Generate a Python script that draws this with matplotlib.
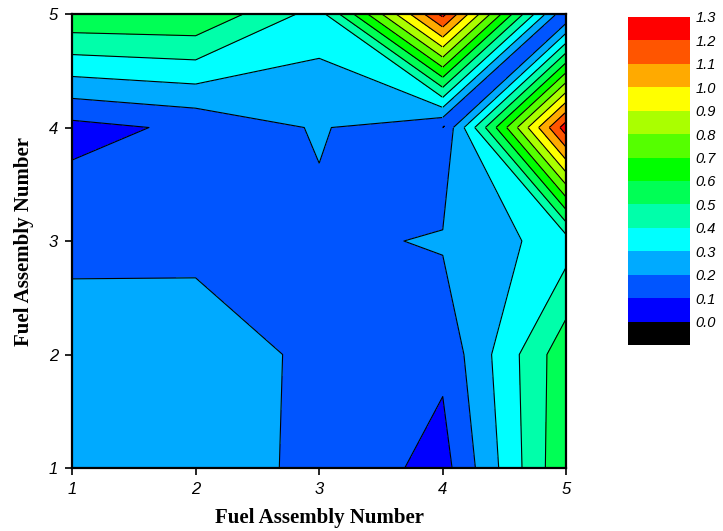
import numpy as np
import matplotlib
matplotlib.use('Agg')
import matplotlib.pyplot as plt
from matplotlib.colors import ListedColormap, BoundaryNorm
from matplotlib.tri import Triangulation

# assembly positions along each axis
xpos = [1, 2, 3, 4, 5]
ypos = [1, 2, 3, 4, 5]

# values for each row of assemblies (y = 1 ... 5), left to right in x
row_y1 = [0.250, 0.221, 0.190, 0.060, 0.590]
row_y2 = [0.236, 0.250, 0.179, 0.1235, 0.570]
row_y3 = [0.182, 0.176, 0.176, 0.211, 0.350]
row_y4 = [0.067, 0.120, 0.211, 0.0999, 1.260]
row_y5 = [0.585, 0.590, 0.357, 1.230, 0.108]

levels = [0.0, 0.1, 0.2, 0.3, 0.4, 0.5, 0.6, 0.7, 0.8, 0.9, 1.0, 1.1, 1.2, 1.3]
level_labels = ['0.0', '0.1', '0.2', '0.3', '0.4', '0.5', '0.6', '0.7',
                '0.8', '0.9', '1.0', '1.1', '1.2', '1.3']
band_colors = ['#0000FF', '#0055FF', '#00AAFF', '#00FFFF', '#00FFAA', '#00FF55',
               '#00FF00', '#55FF00', '#AAFF00', '#FFFF00', '#FFAA00', '#FF5500',
               '#FF0000']

X, Y = np.meshgrid(xpos, ypos)
Z = np.array([row_y1, row_y2, row_y3, row_y4, row_y5])

cmap = ListedColormap(band_colors)
cmap.set_under('black')
norm = BoundaryNorm(levels, cmap.N)

tickfont = {'family': 'Liberation Sans', 'style': 'italic', 'size': 12}
labfont = {'family': 'Liberation Serif', 'weight': 'bold', 'size': 15}

fig = plt.figure(figsize=(7.23, 5.31), dpi=100)
ax = fig.add_axes([0.0996, 0.1186, 0.6837, 0.855])

cs = ax.contourf(X, Y, Z, levels=levels, cmap=cmap, norm=norm, extend='min',
                 zorder=1)
ax.contour(X, Y, Z, levels=levels, colors='k', linewidths=0.8, zorder=2)

# top right cell: split along the low diagonal so the valley between
# the two peaks stays open up to the corner
i, j = 3, 3
cx = [X[j, i], X[j, i+1], X[j+1, i+1], X[j+1, i]]
cy = [Y[j, i], Y[j, i+1], Y[j+1, i+1], Y[j+1, i]]
cz = [Z[j, i], Z[j, i+1], Z[j+1, i+1], Z[j+1, i]]
tri = Triangulation(cx, cy, triangles=[[0, 1, 2], [0, 2, 3]])
ax.tricontourf(tri, cz, levels=levels, cmap=cmap, norm=norm, extend='min',
               zorder=3)
ax.tricontour(tri, cz, levels=levels, colors='k', linewidths=0.8, zorder=4)

ax.set_xlim(1, 5)
ax.set_ylim(1, 5)
ax.set_xticks(xpos)
ax.set_yticks(ypos)
ax.set_xticklabels([str(v) for v in xpos], fontdict=tickfont)
ax.set_yticklabels([str(v) for v in ypos], fontdict=tickfont)
ax.tick_params(direction='out', length=5, width=1.2, pad=5)
for sp in ax.spines.values():
    sp.set_linewidth(1.6)
    sp.set_zorder(5)
ax.set_xlabel('Fuel Assembly Number', fontdict=labfont, labelpad=8)
ax.set_ylabel('Fuel Assembly Number', fontdict=labfont, labelpad=11)

cax = fig.add_axes([628/723, 1-345/531, 62/723, 328/531])
cb = fig.colorbar(cs, cax=cax, extend='min', extendrect=True,
                  extendfrac=1/13, ticks=levels)
cb.outline.set_visible(False)
cb.ax.tick_params(length=0, pad=4)
cb.ax.set_yticklabels(level_labels, fontdict={'family': 'Liberation Sans',
                                              'style': 'italic', 'size': 10.5})

plt.savefig('out.png', dpi=100)
